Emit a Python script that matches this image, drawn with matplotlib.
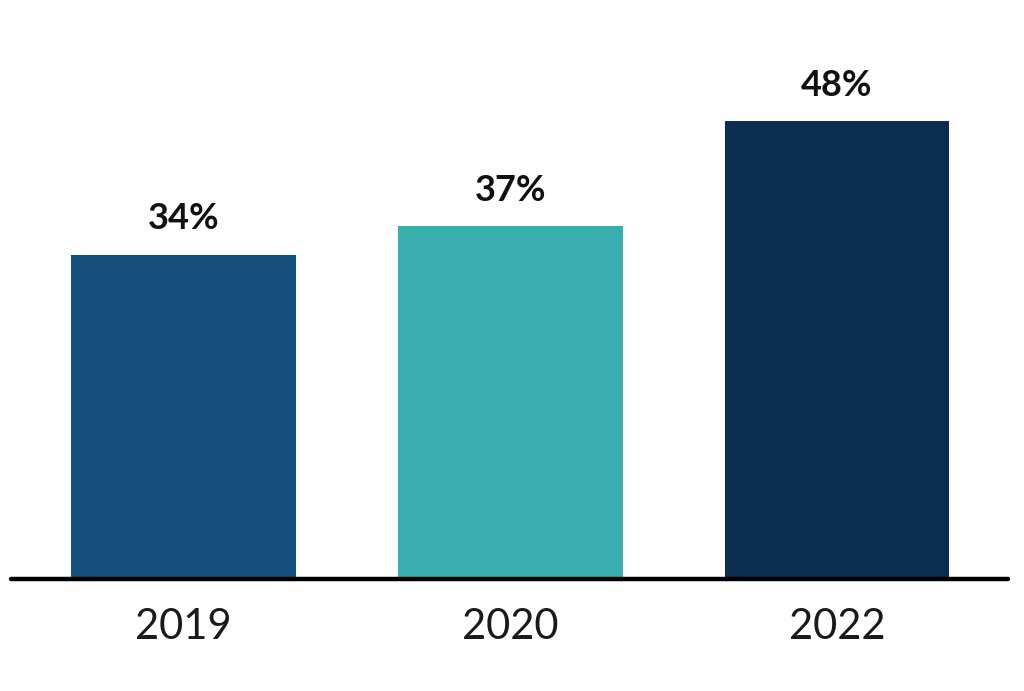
import matplotlib
matplotlib.use("Agg")
import matplotlib.pyplot as plt

years = ["2019", "2020", "2022"]
values = [34, 37, 48]
labels = ["34%", "37%", "48%"]
colors = ["#154e7a", "#3aafaf", "#0b2d4f"]

W, H = 1024, 691
fig = plt.figure(figsize=(W / 100, H / 100), dpi=100)
base_px = 579
top_px = 40
ax = fig.add_axes([11 / W, 1 - base_px / H, 997 / W, (base_px - top_px) / H])
scale = 458 / 48
ax.set_ylim(0, (base_px - top_px) / scale)
ax.set_xlim(-0.527, 2.523)

x = list(range(len(years)))
ax.bar(x, values, width=0.688, color=colors, zorder=2)
for xi, v, lab in zip(x, values, labels):
    ax.annotate(lab, (xi, v), xytext=(0, 14), textcoords="offset points",
                ha="center", va="bottom", fontsize=26, fontweight="bold",
                family="Lato", color="#111111")

ax.axhline(0, color="black", lw=3.2, solid_capstyle="round", clip_on=False, zorder=3)
for s in ax.spines.values():
    s.set_visible(False)
ax.set_yticks([])
ax.set_xticks(x)
ax.set_xticklabels(years, fontsize=30, family="Lato", fontweight="normal", color="#1a1a1a")
ax.tick_params(axis="x", length=0, pad=21)

fig.savefig("out.png", dpi=100, facecolor="white")
